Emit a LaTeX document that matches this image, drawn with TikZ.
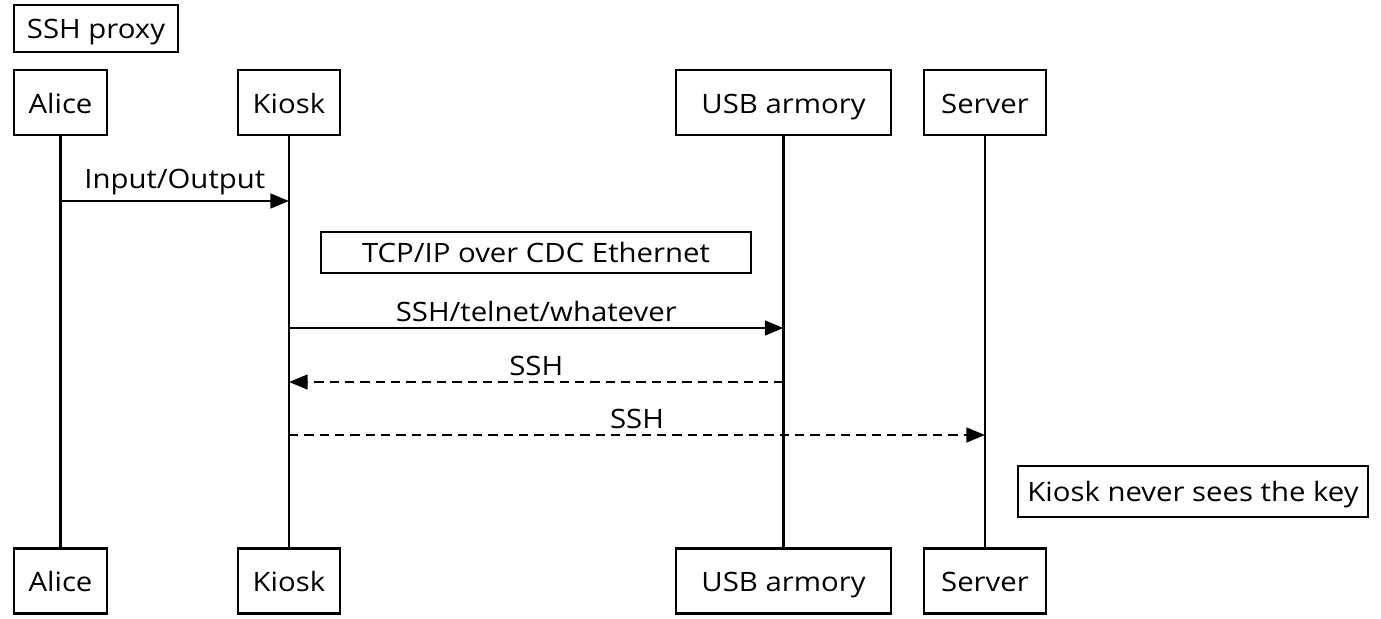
\documentclass[tikz,border=0pt]{standalone}
\usepackage{fontspec}
\setmainfont[FakeStretch=1.1]{Open Sans}
\usetikzlibrary{arrows.meta}

\tikzset{every picture/.style={line width=2pt}}
\tikzset{
  actor/.style={draw, minimum height=48.75pt, inner sep=0pt, text height=18pt, text depth=2pt, font=\fontsize{20}{24}\selectfont},
  notebox/.style={draw, inner sep=0pt, text height=17pt, text depth=2pt, font=\fontsize{20}{24}\selectfont},
  msg/.style={-{Triangle[length=14pt,width=11pt]}},
  reply/.style={msg, dash pattern=on 7pt off 4.5pt},
  msglabel/.style={above=0pt, font=\fontsize{20}{24}\selectfont}
}

\begin{document}
\begin{tikzpicture}[x=0.75pt,y=0.75pt,yscale=-1,xscale=1]
\useasboundingbox (0,0) rectangle (1381,618);

%Shape: Rectangle [title]
\node [notebox, minimum width=123pt, minimum height=35.25pt] (title) at (96,28.5) {SSH proxy};

%Shape: Rectangle [participants, top]
\node [actor, minimum width=69.75pt] (aliceT) at (60.5,102.5) {Alice};
\node [actor, minimum width=76.5pt] (kioskT) at (289,102.5) {Kiosk};
\node [actor, minimum width=161.25pt] (usbT) at (783.5,102.5) {USB armory};
\node [actor, minimum width=91.5pt] (serverT) at (985,102.5) {Server};
%Shape: Rectangle [participants, bottom]
\node [actor, minimum width=69.75pt] (aliceB) at (60.5,581) {Alice};
\node [actor, minimum width=76.5pt] (kioskB) at (289,581) {Kiosk};
\node [actor, minimum width=161.25pt] (usbB) at (783.5,581) {USB armory};
\node [actor, minimum width=91.5pt] (serverB) at (985,581) {Server};

%Straight Lines [lifelines]
\draw (aliceT) -- (aliceB);
\draw (kioskT) -- (kioskB);
\draw (usbT) -- (usbB);
\draw (serverT) -- (serverB);

%Shape: Rectangle [notes]
\node [notebox, minimum width=322.5pt, minimum height=30.75pt] (tcpNote) at (536,252.5) {TCP/IP over CDC Ethernet};
\node [notebox, minimum width=262.5pt, minimum height=38.25pt] (keyNote) at (1193,491.5) {Kiosk never sees the key};

% message rows
\coordinate (row1) at (0,201);
\coordinate (row2) at (0,328);
\coordinate (row3) at (0,382);
\coordinate (row4) at (0,435);

%Straight Lines [messages]
\draw [msg] (aliceT |- row1) -- (kioskT |- row1) node [midway, msglabel] {Input/Output};
\draw [msg] (kioskT |- row2) -- (usbT |- row2) node [midway, msglabel] {SSH/telnet/whatever};
\draw [reply] (usbT |- row3) -- (kioskT |- row3) node [midway, msglabel] {SSH};
\draw [reply] (kioskT |- row4) -- (serverT |- row4) node [midway, msglabel] {SSH};

\end{tikzpicture}
\end{document}
